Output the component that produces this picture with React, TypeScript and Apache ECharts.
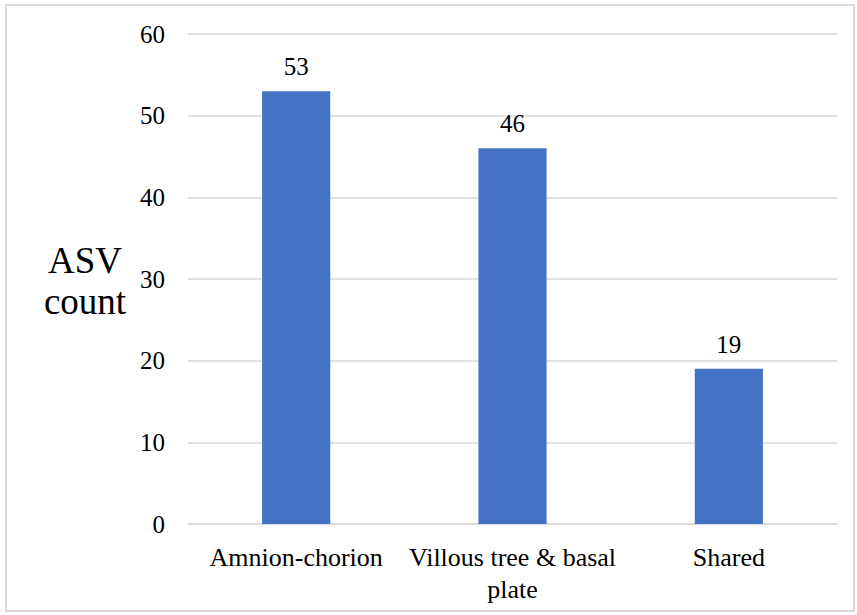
import React, { useEffect, useRef } from "react";
import * as echarts from "echarts";

const categories = ["Amnion-chorion", "Villous tree & basal\nplate", "Shared"];
const counts = [53, 46, 19];
const yTicks = { min: 0, max: 60, interval: 10 };
const yTitle = "ASV\ncount";

const FONT = "Liberation Serif";

export default function App() {
  const ref = useRef<HTMLDivElement>(null);
  useEffect(() => {
    if (!ref.current) return;
    const chart = echarts.init(ref.current, undefined, { renderer: "svg" });
    chart.setOption({
      animation: false,
      backgroundColor: "#ffffff",
      grid: { left: 188, right: 20, top: 34, bottom: 91 },
      xAxis: {
        type: "category",
        data: categories,
        axisLine: { show: true, lineStyle: { color: "#d9d9d9", width: 1.5 } },
        axisTick: { show: false },
        axisLabel: {
          color: "#000",
          fontFamily: FONT,
          fontSize: 26,
          margin: 17,
          lineHeight: 32,
          interval: 0,
        },
      },
      yAxis: {
        type: "value",
        min: yTicks.min,
        max: yTicks.max,
        interval: yTicks.interval,
        axisLine: { show: false },
        axisTick: { show: false },
        splitLine: { lineStyle: { color: "#d9d9d9", width: 1.5 } },
        axisLabel: { color: "#000", fontFamily: FONT, fontSize: 25, margin: 23 },
      },
      series: [
        {
          type: "bar",
          data: counts,
          barWidth: "31.5%",
          itemStyle: { color: "#4472c4" },
          label: {
            show: true,
            position: "top",
            distance: 12,
            color: "#000",
            fontFamily: FONT,
            fontSize: 25,
          },
        },
      ],
      graphic: [
        {
          type: "rect",
          shape: { x: 6, y: 5, width: 848, height: 606 },
          style: { fill: "none", stroke: "#d9d9d9", lineWidth: 2 },
          silent: true,
        },
        {
          type: "text",
          x: 85,
          y: 281,
          style: {
            text: yTitle,
            fontFamily: FONT,
            fontSize: 37,
            lineHeight: 41,
            fill: "#000",
            align: "center",
            verticalAlign: "middle",
          },
        },
      ],
    });
    return () => chart.dispose();
  }, []);
  return (
    <div
      ref={ref}
      style={{ position: "fixed", left: 0, top: 0, width: 857, height: 615 }}
    />
  );
}
